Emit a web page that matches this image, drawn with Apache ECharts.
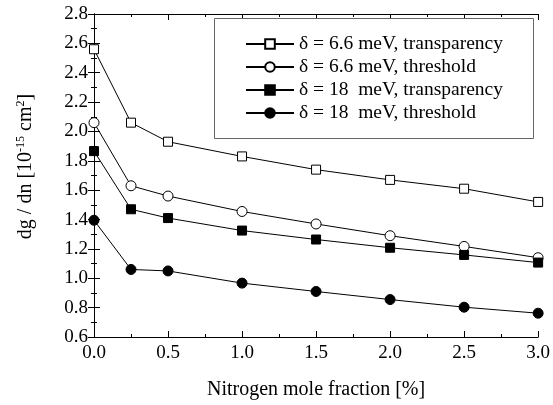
<!DOCTYPE html>
<html>
<head>
<meta charset="utf-8">
<script src="https://cdn.jsdelivr.net/npm/echarts@6/dist/echarts.min.js"></script>
<style>html,body{margin:0;padding:0;background:#fff}#c{width:553px;height:405px}</style>
</head>
<body>
<div id="c"></div>
<script>
var xValues = [0, 0.25, 0.5, 1.0, 1.5, 2.0, 2.5, 3.0];
var s66Transparency = [2.56, 2.06, 1.93, 1.83, 1.74, 1.67, 1.61, 1.52];
var s66Threshold = [2.06, 1.63, 1.56, 1.455, 1.37, 1.29, 1.217, 1.14];
var s18Transparency = [1.866, 1.47, 1.41, 1.325, 1.264, 1.208, 1.159, 1.107];
var s18Threshold = [1.395, 1.06, 1.05, 0.967, 0.91, 0.855, 0.803, 0.762];
var seriesNames = ['\u03b4 = 6.6 meV, transparency', '\u03b4 = 6.6 meV, threshold', '\u03b4 = 18  meV, transparency', '\u03b4 = 18  meV, threshold'];

function pairs(ys){ return xValues.map(function(x,i){ return [x, ys[i]]; }); }
var font = 'Liberation Serif';
var chart = echarts.init(document.getElementById('c'));
function mkSeries(name, ys, symbol, filled, size){
  return {
    name: name, type: 'line', data: pairs(ys), symbol: symbol, symbolSize: size,
    showAllSymbol: true, clip: false,
    lineStyle: {color: '#000', width: 1},
    itemStyle: {color: filled ? '#000' : '#fff', borderColor: '#000', borderWidth: 1},
    z: 3
  };
}
var axisCommon = {
  axisLine: {show: true, lineStyle: {color: '#000', width: 1}},
  axisTick: {show: true, inside: true, length: 6, lineStyle: {color: '#000'}},
  minorTick: {show: true, splitNumber: 2, length: 3, lineStyle: {color: '#000'}},
  splitLine: {show: false}
};
chart.setOption({
  animation: false,
  backgroundColor: '#fff',
  grid: {left: 94, right: 13, top: 14, bottom: 65},
  graphic: [{
    type: 'rect', left: 214, top: 18, z: 5,
    shape: {width: 319, height: 120},
    style: {fill: '#fff', stroke: '#666', lineWidth: 1}
  }],
  xAxis: [
    Object.assign({type: 'value', min: 0, max: 3, interval: 0.5, position: 'bottom',
      name: 'Nitrogen mole fraction [%]', nameLocation: 'middle', nameGap: 43,
      nameTextStyle: {fontFamily: font, fontSize: 20, color: '#000'},
      axisLabel: {fontFamily: font, fontSize: 19, color: '#000', margin: 7, formatter: function(v){return v.toFixed(1);}}
    }, axisCommon),
    Object.assign({type: 'value', min: 0, max: 3, interval: 0.5, position: 'top', axisLabel: {show: false}}, axisCommon)
  ],
  yAxis: [
    Object.assign({type: 'value', min: 0.6, max: 2.8, interval: 0.2, position: 'left',
      name: 'dg / dn [10{sup|-15} cm{sup|2}]', nameLocation: 'middle', nameGap: 58, nameRotate: 90,
      nameTextStyle: {fontFamily: font, fontSize: 20, color: '#000', padding: [0, 0, 0, 18],
        rich: {sup: {fontFamily: font, fontSize: 12, verticalAlign: 'top', padding: [0,0,9,0]}}},
      axisLabel: {fontFamily: font, fontSize: 19, color: '#000', margin: 6, formatter: function(v){return v.toFixed(1);}}
    }, axisCommon),
    Object.assign({type: 'value', min: 0.6, max: 2.8, interval: 0.2, position: 'right', axisLabel: {show: false}}, axisCommon)
  ],
  legend: {
    orient: 'vertical', left: 245, top: 34, z: 10,
    padding: 0,
    itemWidth: 48, itemHeight: 12, itemGap: 3,
    borderWidth: 0,
    textStyle: {fontFamily: font, fontSize: 19.5, color: '#000'},
    data: seriesNames
  },
  series: [
    mkSeries(seriesNames[0], s66Transparency, 'rect', false, 9),
    mkSeries(seriesNames[1], s66Threshold, 'circle', false, 10),
    mkSeries(seriesNames[2], s18Transparency, 'rect', true, 9),
    mkSeries(seriesNames[3], s18Threshold, 'circle', true, 10)
  ]
});
</script>
</body>
</html>
